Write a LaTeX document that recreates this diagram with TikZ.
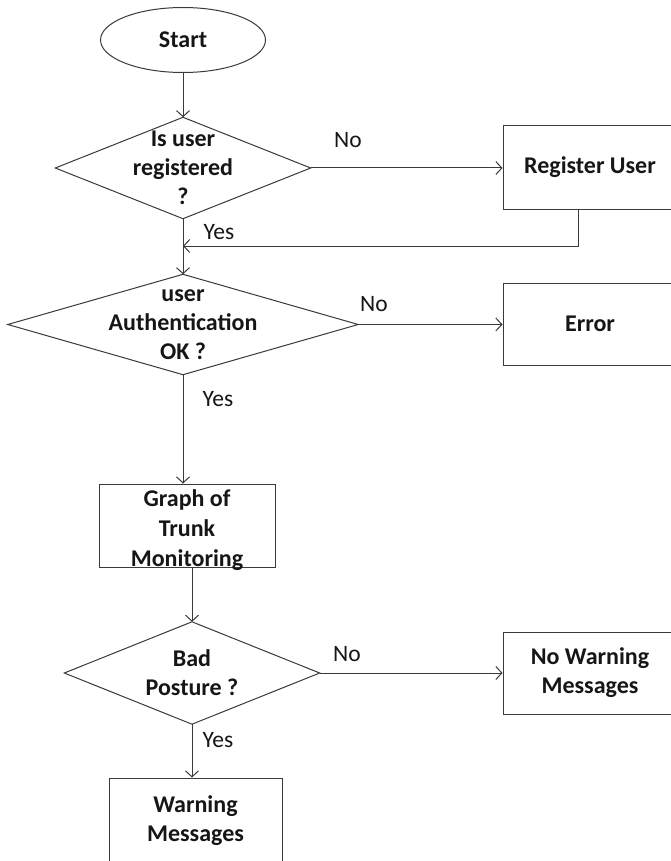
\documentclass[tikz,border=0pt]{standalone}
\usepackage{fontspec}
\setmainfont{Carlito}
\usetikzlibrary{arrows.meta,shapes.geometric}
\definecolor{ln}{HTML}{3A3A3A}
\definecolor{tx}{HTML}{161616}
\tikzset{
  base/.style={font=\fontsize{24}{29}\selectfont\bfseries, text=tx, align=center, inner sep=0pt},
  term/.style={base, ellipse, draw=ln, line width=1pt, minimum width=165, minimum height=65},
  decbox/.style={base, rectangle, draw=none},
  procbox/.style={base, rectangle, draw=ln, line width=1pt},
  flow/.style={draw=ln, line width=1pt, -{Straight Barb[length=6pt,width=13pt]}},
  plain/.style={draw=ln, line width=1pt},
  lbl/.style={font=\fontsize{23.5}{26}\selectfont, text=tx, inner sep=0pt}
}
\begin{document}
\begin{tikzpicture}[x=1pt,y=-1pt]
\useasboundingbox (0,0) rectangle (671,861);
\clip (0,0) rectangle (671,861);
\fill[white] (0,0) rectangle (671,861);

% nodes
\node[term] (start) at (183,40) {Start};
\node[decbox, minimum width=255, minimum height=101] (d1) at (183,168) {Is user\\registered\\?};
\node[procbox, minimum width=174, minimum height=83] (reg) at (590,167.5) {Register User};
\node[decbox, minimum width=350, minimum height=100] (d2) at (183,324.5) {user\\Authentication\\OK ?};
\node[procbox, minimum width=174, minimum height=82] (err) at (590,324) {Error};
\node[procbox, minimum width=176, minimum height=83, text height=82pt, text depth=1pt, font=\fontsize{24}{30}\selectfont\bfseries] (g) at (187,525.5) {Graph of\\Trunk\\Monitoring};
\node[decbox, minimum width=255, minimum height=102] (d3) at (192,673) {Bad\\Posture ?};
\node[procbox, minimum width=174, minimum height=82] (nw) at (590,673) {No Warning\\Messages};
\node[procbox, minimum width=173, minimum height=86] (w) at (195.5,821) {Warning\\Messages};

% diamonds
\draw[plain] (d1.north) -- (d1.east) -- (d1.south) -- (d1.west) -- cycle;
\draw[plain] (d2.north) -- (d2.east) -- (d2.south) -- (d2.west) -- cycle;
\draw[plain] (d3.north) -- (d3.east) -- (d3.south) -- (d3.west) -- cycle;

% connectors
\coordinate (r1) at (578,246);
\draw[flow] (start.south) -- (d1.north);
\draw[flow] (d1.east) -- (d1.east -| reg.west);
\draw[flow] (d1.south) -- (d2.north);
\draw[flow] (reg.south -| r1) -- (r1) -- (r1 -| d1.south);
\draw[flow] (d2.east) -- (d2.east -| err.west);
\draw[flow] (d2.south) -- (d2.south |- g.north);
\draw[flow] (d3.north |- g.south) -- (d3.north);
\draw[flow] (d3.east) -- (d3.east -| nw.west);
\draw[flow] (d3.south) -- (d3.south |- w.north);

% labels
\node[lbl] at (348,140) {No};
\node[lbl] at (219,232) {Yes};
\node[lbl] at (374,304) {No};
\node[lbl] at (218,399) {Yes};
\node[lbl] at (347,654) {No};
\node[lbl] at (218,740) {Yes};
\end{tikzpicture}
\end{document}
